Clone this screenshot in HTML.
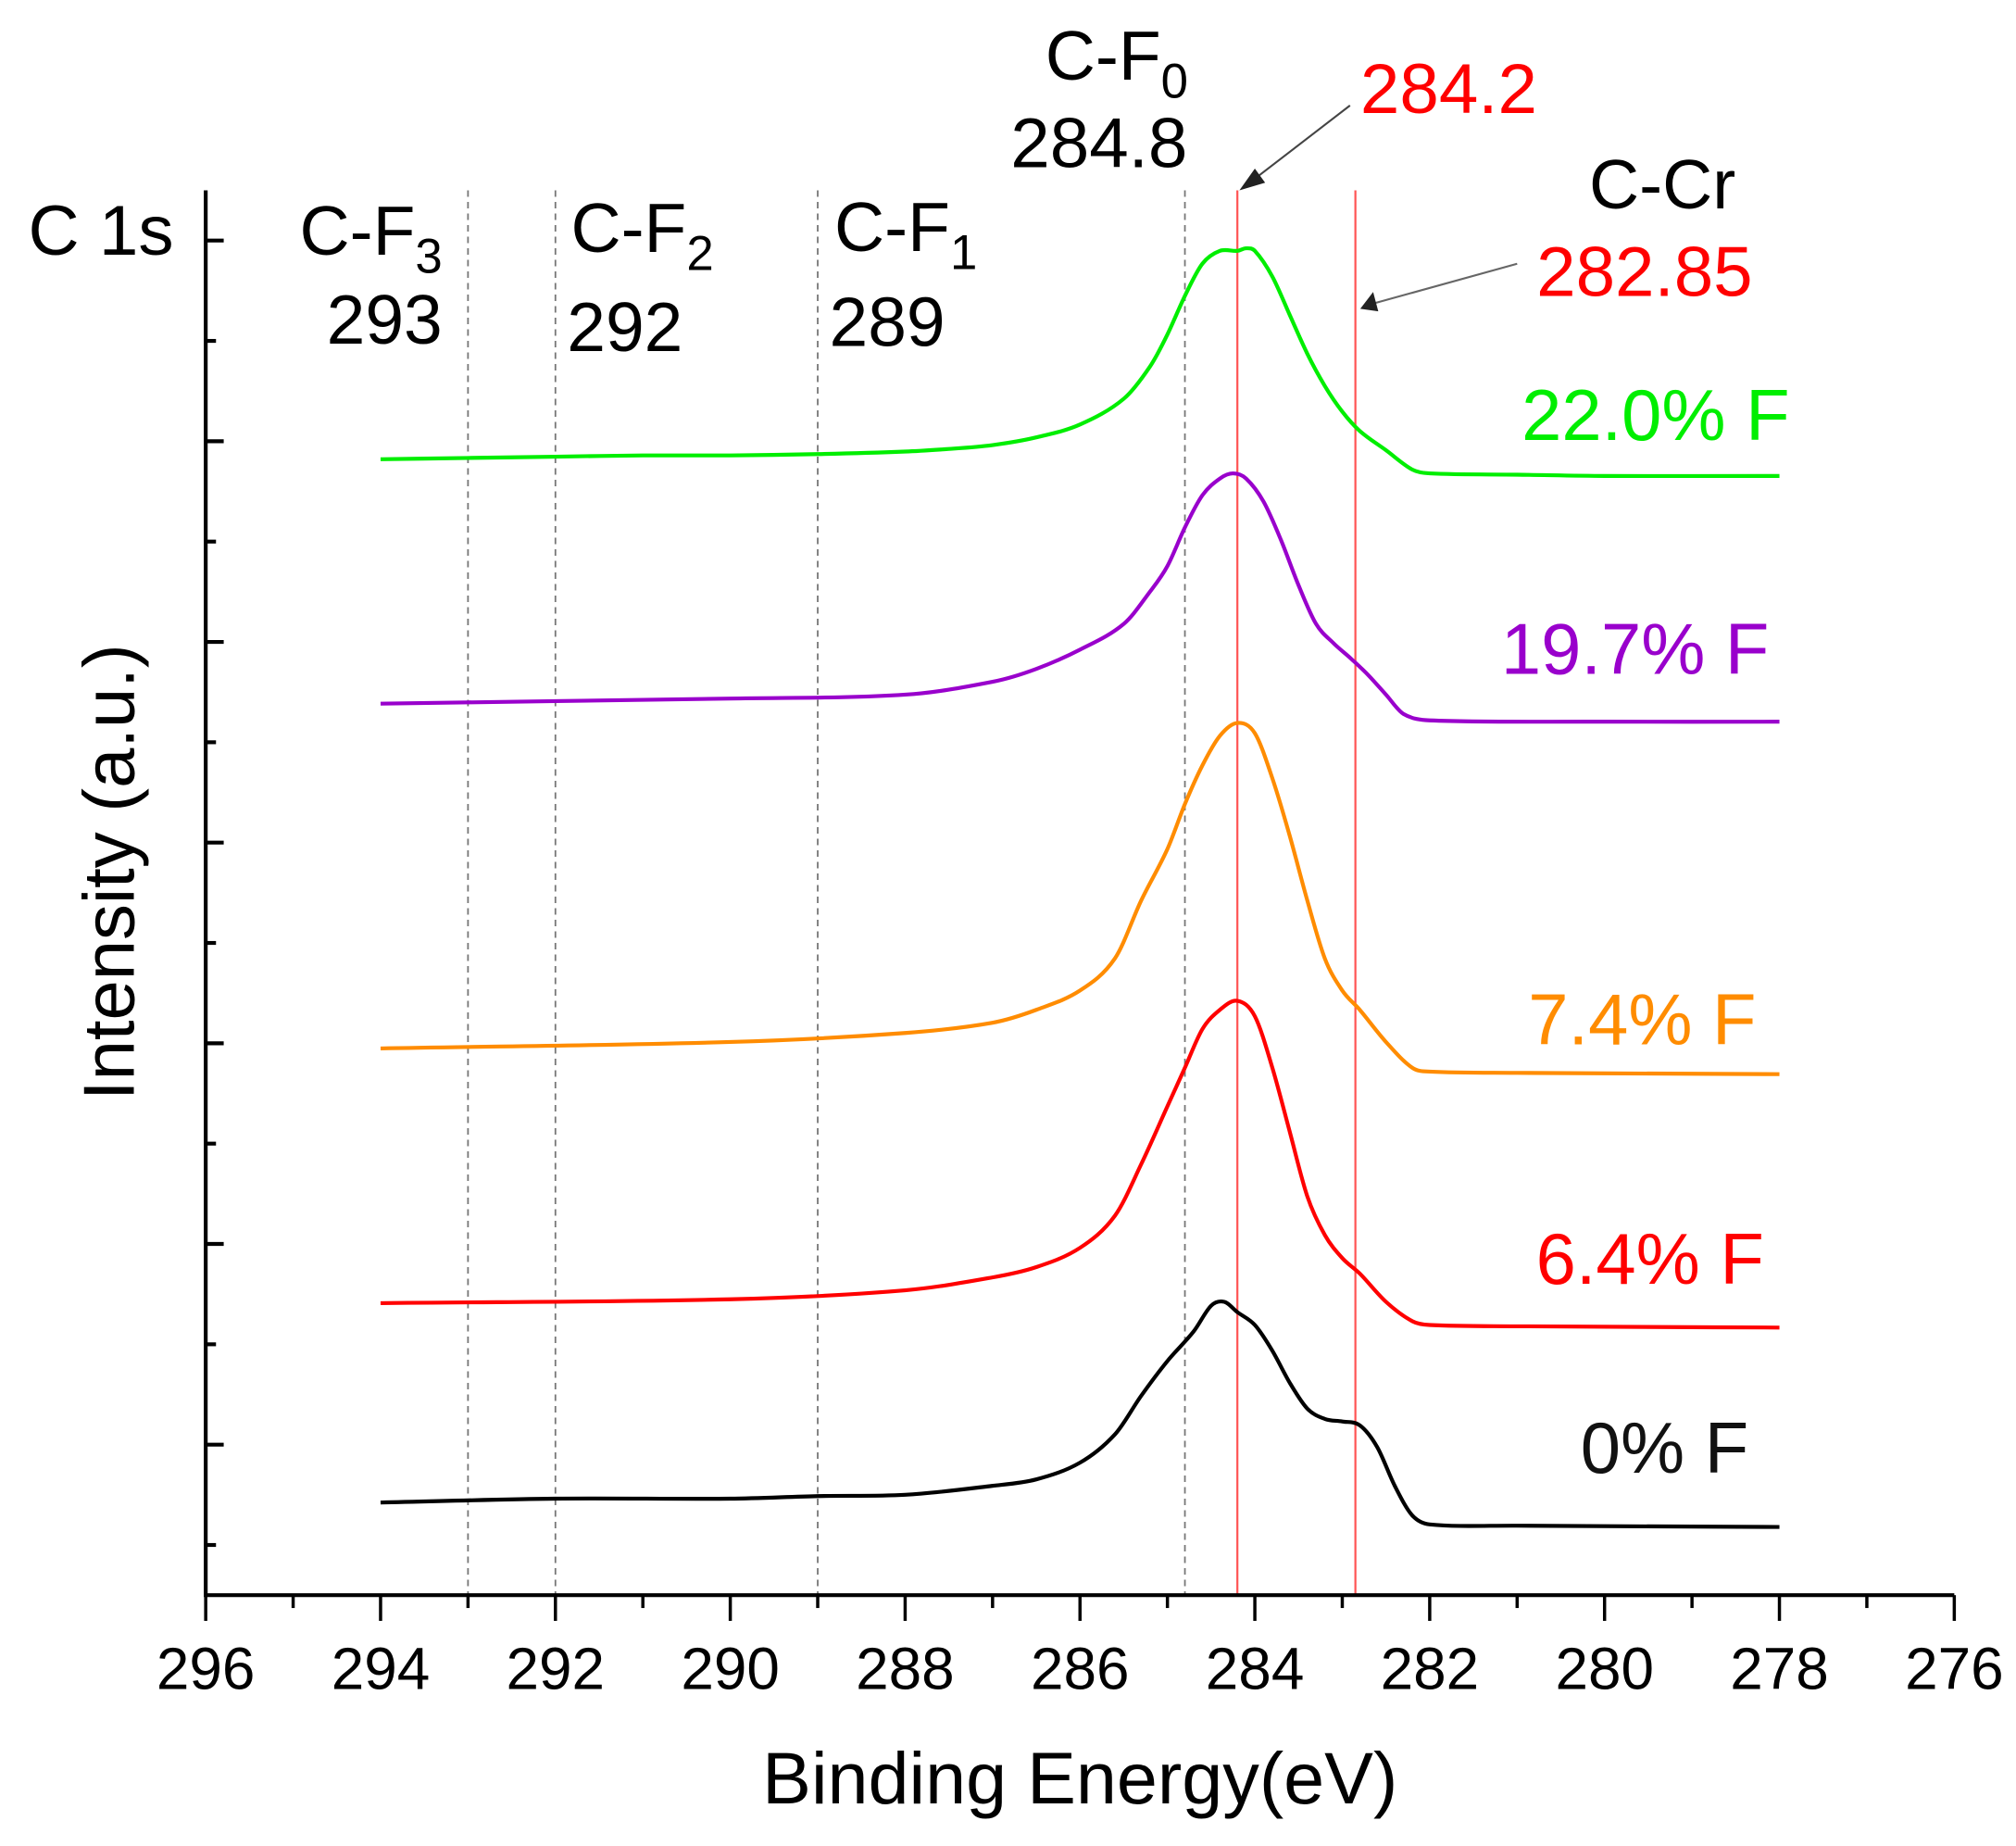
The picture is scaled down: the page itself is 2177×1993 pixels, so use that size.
<!DOCTYPE html>
<html><head><meta charset="utf-8"><style>
html,body{margin:0;padding:0;background:#fff;}
svg{display:block;}
text{font-family:"Liberation Sans",Arial,sans-serif;}
</style></head><body>
<svg id="chart" width="2177" height="1993" viewBox="0 0 1568 1435" preserveAspectRatio="none" xmlns="http://www.w3.org/2000/svg">
<g id="refs"></g>
<g id="axes"></g>
<g id="series"></g>
<g id="labels">
<text x="22" y="198" font-size="55">C 1s</text>
<text x="233" y="198" font-size="54">C-F<tspan font-size="38" dy="14">3</tspan></text>
<text x="254" y="267" font-size="54">293</text>
<text x="444" y="196" font-size="54">C-F<tspan font-size="38" dy="14">2</tspan></text>
<text x="441" y="273" font-size="54">292</text>
<text x="649" y="195" font-size="54">C-F<tspan font-size="38" dy="14">1</tspan></text>
<text x="645" y="269" font-size="54">289</text>
<text x="813" y="62" font-size="54">C-F<tspan font-size="38" dy="14">0</tspan></text>
<text x="786" y="130" font-size="55">284.8</text>
<text x="1058" y="88" font-size="55" fill="#ff0000">284.2</text>
<text x="1236" y="162" font-size="54">C-Cr</text>
<text x="1195" y="230" font-size="55" fill="#ff0000">282.85</text>
<line x1="1050" y1="82" x2="972" y2="142" stroke="#444" stroke-width="1.5"/>
<polygon points="964,148 976,131 984,142" fill="#222"/>
<line x1="1180" y1="205" x2="1068" y2="236" stroke="#666" stroke-width="1.5"/>
<polygon points="1058,240 1068,227 1072,242" fill="#222"/>
<text x="1392" y="342" font-size="56" text-anchor="end" fill="#00ee00">22.0% F</text>
<text x="1376" y="524" font-size="56" text-anchor="end" fill="#9900cc">19.7% F</text>
<text x="1366" y="812" font-size="56" text-anchor="end" fill="#ff8c00">7.4% F</text>
<text x="1372" y="998" font-size="56" text-anchor="end" fill="#ff0000">6.4% F</text>
<text x="1360" y="1145" font-size="56" text-anchor="end" fill="#111">0% F</text>
<text x="840" y="1402" font-size="57" text-anchor="middle">Binding Energy(eV)</text>
<text transform="translate(104,678) rotate(-90)" font-size="56" text-anchor="middle">Intensity (a.u.)</text>
</g>
</svg>
<script>
const NS="http://www.w3.org/2000/svg";
const xTicks=[296,294,292,290,288,286,284,282,280,278,276];
const refEnergies=[293,292,289,284.8];
const peakEnergies=[284.2,282.85];
const gE=[294,293,292,291,290,289,288,287.5,287,286.5,286,285.5,285.2,285.0,284.8,284.6,284.4,284.2,284.1,284.0,283.8,283.6,283.4,283.2,283.0,282.8,282.5,282.2,282,281,280,278];
const gV=[883,884,885,886,886,887,889,891,894,900,910,930,955,980,1010,1035,1045,1045,1047,1045,1025,995,965,940,920,905,890,875,872,871,870,870];
const pE=[294,292,290,288,287,286.5,286,285.5,285.2,285,284.8,284.6,284.4,284.25,284.1,283.9,283.7,283.5,283.3,283.1,282.9,282.7,282.5,282.3,282,280,278];
const pV=[693,695,697,700,710,720,735,755,780,800,830,855,868,872,868,850,820,785,755,740,728,715,700,685,680,679,679];
const oE=[294,290,288,287,286.5,286,285.6,285.3,285,284.8,284.6,284.4,284.2,284.0,283.8,283.6,283.4,283.2,283,282.8,282.5,282.2,282,281,278];
const oV=[425,430,437,445,455,470,495,540,580,615,645,668,678,670,635,590,540,495,470,455,430,410,407,406,405];
const rE=[294,290,288,287,286.5,286,285.6,285.3,285,284.8,284.6,284.4,284.2,284.0,283.8,283.6,283.4,283.2,283,282.8,282.5,282.2,282,281,278];
const rV=[227,230,237,247,255,270,295,335,380,410,440,455,462,450,410,360,310,280,262,250,228,213,210,209,208];
const kE=[294,292,290,289,288,287,286.5,286,285.6,285.3,285,284.7,284.5,284.35,284.2,284.0,283.8,283.6,283.4,283.2,283.0,282.8,282.6,282.4,282.2,282,281,278];
const kV=[72,75,75,77,78,85,90,103,125,155,182,205,225,228,220,210,190,165,145,137,135,132,115,85,62,55,54,53];

const X0=160,X1=1520,Y0=148,YB=1240;
function xs(e){return X0+(296-e)*(X1-X0)/20;}
function ys(v){return YB-v;}
function mk(tag,attrs,parent){const el=document.createElementNS(NS,tag);for(const k in attrs)el.setAttribute(k,attrs[k]);parent.appendChild(el);return el;}

const refs=document.getElementById('refs');
refEnergies.forEach(e=>{
  const l=mk('line',{x1:xs(e),x2:xs(e),y1:Y0,y2:YB,stroke:'#777','stroke-width':1.3,'stroke-dasharray':'5,4'},refs);
  
  
});
peakEnergies.forEach(e=>{
  const l=mk('line',{x1:xs(e),x2:xs(e),y1:Y0,y2:YB,stroke:'#ff5555','stroke-width':1.6},refs);
  
  
});

const axes=document.getElementById('axes');
const xa=mk('line',{x1:X0,x2:X1,y1:YB,y2:YB,stroke:'#000','stroke-width':3},axes);


const ya=mk('line',{x1:X0,x2:X0,y1:Y0,y2:YB+1.5,stroke:'#000','stroke-width':3},axes);


for(let e=296;e>=276;e--){
  const major=(e%2===0);
  const t=mk('line',{x1:xs(e),x2:xs(e),y1:YB,y2:YB+(major?20:10),stroke:'#000','stroke-width':2.5},axes);
  
  
}
xTicks.forEach(e=>{
  const t=mk('text',{x:xs(e),y:1313,'font-size':46,'text-anchor':'middle'},axes);
  t.textContent=e;
  
  
});
for(let i=0;i<14;i++){
  const y=187+i*78;
  const major=(i%2===0);
  const t=mk('line',{x1:X0,x2:X0+(major?14:8),y1:y,y2:y,stroke:'#000','stroke-width':3},axes);
  
  
}

const series=document.getElementById('series');
function clamp(v,a,b){const lo=Math.min(a,b),hi=Math.max(a,b);return Math.max(lo,Math.min(hi,v));}
function draw(E,V,color,name){
  const P=E.map((e,i)=>[xs(e),ys(V[i])]);
  let d='M'+P[0][0].toFixed(1)+','+P[0][1].toFixed(1);
  for(let i=0;i<P.length-1;i++){
    const p0=P[Math.max(0,i-1)],p1=P[i],p2=P[i+1],p3=P[Math.min(P.length-1,i+2)];
    const dx=p2[0]-p1[0];
    // tangents scaled by local segment width (finite-difference slopes)
    const s1=(p2[1]-p0[1])/((p2[0]-p0[0])||1);
    const s2=(p3[1]-p1[1])/((p3[0]-p1[0])||1);
    const c1=[p1[0]+dx/3,p1[1]+s1*dx/3];
    const c2=[p2[0]-dx/3,p2[1]-s2*dx/3];
    c1[1]=clamp(c1[1],p1[1]-Math.abs(p2[1]-p1[1])-2,p1[1]+Math.abs(p2[1]-p1[1])+2);
    c2[1]=clamp(c2[1],p2[1]-Math.abs(p2[1]-p1[1])-2,p2[1]+Math.abs(p2[1]-p1[1])+2);
    d+=' C'+c1[0].toFixed(1)+','+c1[1].toFixed(1)+' '+c2[0].toFixed(1)+','+c2[1].toFixed(1)+' '+p2[0].toFixed(1)+','+p2[1].toFixed(1);
  }
  const p=mk('path',{d:d,fill:'none',stroke:color,'stroke-width':3,'stroke-linejoin':'round'},series);
  
  
}
draw(gE,gV,'#00ee00','series-22-0-f');
draw(pE,pV,'#9900cc','series-19-7-f');
draw(oE,oV,'#ff8c00','series-7-4-f');
draw(rE,rV,'#ff0000','series-6-4-f');
draw(kE,kV,'#000000','series-0-f');
</script>
</body></html>
